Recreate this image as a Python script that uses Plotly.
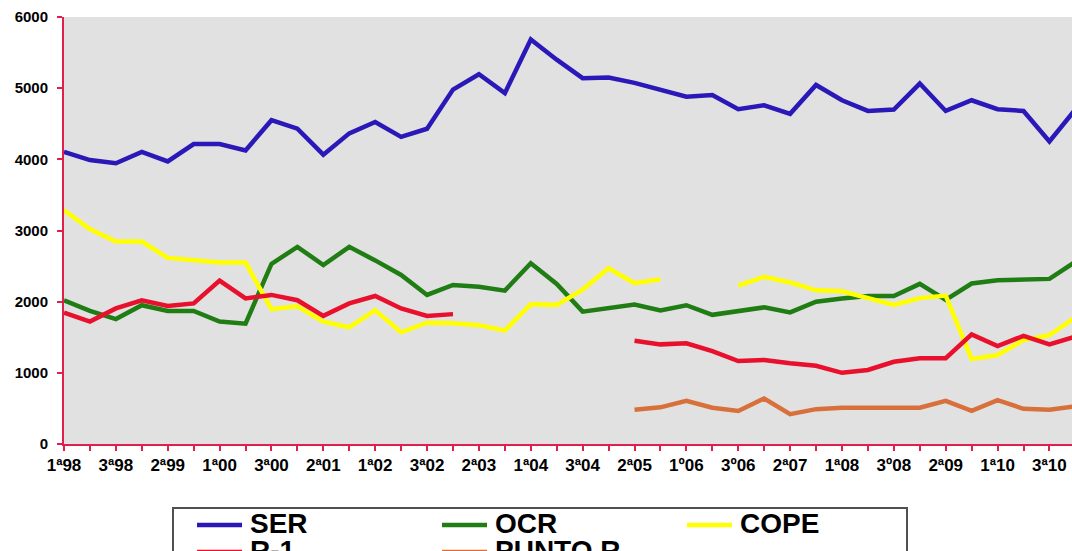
import plotly.graph_objects as go

# ---------------- data ----------------
waves = ["1ª98", "2ª98", "3ª98", "1ª99", "2ª99", "3ª99", "1ª00", "2ª00", "3ª00", "1ª01",
         "2ª01", "3ª01", "1ª02", "2ª02", "3ª02", "1ª03", "2ª03", "3ª03", "1ª04", "2ª04",
         "3ª04", "1ª05", "2ª05", "3ª05", "1º06", "2ª06", "3º06", "1ª07", "2ª07", "3ª07",
         "1ª08", "2ª08", "3º08", "1ª09", "2ª09", "3ª09", "1ª10", "2ª10", "3ª10", "1ª11"]

ser = [4105, 3990, 3945, 4105, 3970, 4215, 4215, 4125, 4550, 4430,
       4065, 4365, 4525, 4315, 4430, 4980, 5195, 4930, 5685, 5400,
       5140, 5150, 5075, 4985, 4880, 4905, 4705, 4760, 4640, 5045,
       4830, 4680, 4700, 5065, 4680, 4830, 4705, 4680, 4250, 4700]

ocr = [2020, 1870, 1755, 1950, 1870, 1870, 1720, 1690, 2530, 2770,
       2515, 2770, 2580, 2375, 2095, 2235, 2210, 2155, 2540, 2250,
       1860, 1905, 1960, 1875, 1950, 1815, 1860, 1920, 1850, 2000,
       2045, 2080, 2080, 2250, 2025, 2255, 2300, 2305, 2320, 2560]

cope = [3285, 3020, 2845, 2845, 2615, 2585, 2550, 2550, 1895, 1935,
        1720, 1640, 1880, 1570, 1705, 1695, 1670, 1595, 1965, 1955,
        2170, 2470, 2260, 2315, None, None, 2225, 2350, 2270, 2160,
        2145, 2050, 1955, 2050, 2085, 1195, 1250, 1460, 1530, 1780]

r1 = [1845, 1720, 1905, 2020, 1940, 1975, 2295, 2045, 2095, 2020,
      1800, 1975, 2080, 1905, 1800, 1825, None, None, None, None,
      None, None, 1450, 1400, 1415, 1305, 1165, 1180, 1135, 1100,
      1000, 1040, 1155, 1205, 1205, 1540, 1375, 1520, 1400, 1510]

punto_r = [None, None, None, None, None, None, None, None, None, None,
           None, None, None, None, None, None, None, None, None, None,
           None, None, 480, 515, 605, 510, 465, 640, 420, 490,
           510, 510, 495, 510, 605, 465, 615, 495, 480, 530]

series_names = ["SER", "OCR", "COPE", "R-1", "PUNTO R"]
series_values = [ser, ocr, cope, r1, punto_r]
series_colors = ["#2a18b8", "#1f7d14", "#ffff00", "#e8102c", "#d8703c"]

y_ticks = [0, 1000, 2000, 3000, 4000, 5000, 6000]
tick_text = [w if i % 2 == 0 else "" for i, w in enumerate(waves)]

# ---------------- layout constants ----------------
W, H = 1072, 551
ML, MR, MT, MB = 64, 0, 17, 107
PW, PH = W - ML - MR, H - MT - MB
AXIS_COLOR = "#e0204a"
FONT = "Arial, Liberation Sans, sans-serif"


def px_x(x):
    return (x - ML) / PW


def px_y(y):
    return (H - MB - y) / PH


fig = go.Figure()
for name, vals, col in zip(series_names, series_values, series_colors):
    fig.add_trace(go.Scatter(x=waves, y=vals, mode="lines", name=name,
                             line=dict(color=col, width=4.5),
                             connectgaps=False, hoverinfo="skip"))

shapes = []
annotations = []
# legend box
shapes.append(dict(type="rect", xref="paper", yref="paper",
                   x0=px_x(173), x1=px_x(907), y0=px_y(600), y1=px_y(508),
                   line=dict(color="#505050", width=2), fillcolor="white", layer="above"))
for k, (name, col) in enumerate(zip(series_names, series_colors)):
    c, r = k % 3, k // 3
    lx = 197 + 245 * c
    ly = 525 + 27 * r
    shapes.append(dict(type="line", xref="paper", yref="paper",
                       x0=px_x(lx), x1=px_x(lx + 45), y0=px_y(ly), y1=px_y(ly),
                       line=dict(color=col, width=4.5), layer="above"))
    annotations.append(dict(xref="paper", yref="paper", x=px_x(lx + 51), y=px_y(ly - 2),
                            xanchor="left", yanchor="middle", showarrow=False, text=name,
                            font=dict(family=FONT, size=28, color="black", weight="bold")))

fig.update_layout(
    width=W, height=H,
    margin=dict(l=ML, r=MR, t=MT, b=MB, autoexpand=False),
    paper_bgcolor="white", plot_bgcolor="#e1e1e1",
    showlegend=False,
    shapes=shapes, annotations=annotations,
    xaxis=dict(type="category", range=[0, 38.87], tickmode="array",
               tickvals=waves, ticktext=tick_text,
               showline=True, linecolor=AXIS_COLOR, linewidth=2,
               ticks="outside", ticklen=5, tickwidth=1.5, tickcolor=AXIS_COLOR,
               showgrid=False, zeroline=False,
               tickfont=dict(family=FONT, size=17, color="black", weight="bold")),
    yaxis=dict(range=[0, 6000], tickmode="array", tickvals=y_ticks,
               showline=True, linecolor=AXIS_COLOR, linewidth=2,
               ticks="outside", ticklen=5, tickwidth=1.5, tickcolor=AXIS_COLOR,
               showgrid=False, zeroline=False, ticklabelstandoff=6,
               tickfont=dict(family=FONT, size=15, color="black", weight="bold")),
)

fig.write_html("out.html", config={"displayModeBar": False})
